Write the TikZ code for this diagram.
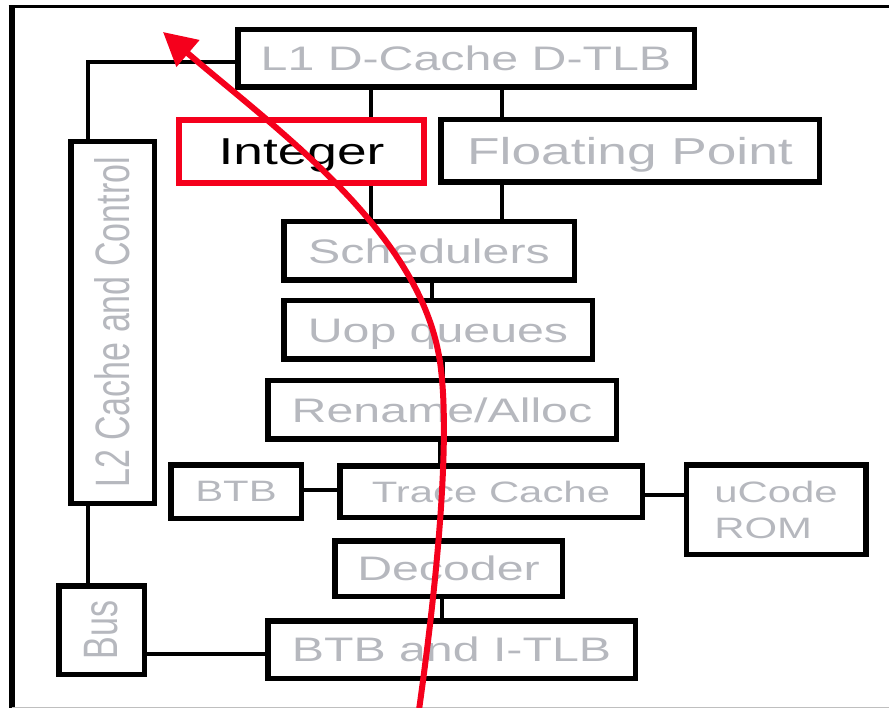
\documentclass[tikz,border=0pt]{standalone}
\usepackage{fontspec}
\setmainfont{Liberation Sans}[FakeStretch=1.42]
\newfontfamily\plainsans{Liberation Sans}
\usepackage{tikz}
\usetikzlibrary{arrows.meta}
\definecolor{unitgray}{RGB}{182,184,190}
\definecolor{flowred}{RGB}{245,0,28}

\begin{document}
\begin{tikzpicture}[x=1pt,y=-1pt,>={Triangle[length=33pt,width=34pt]},
    unit/.style={draw,line width=5.5pt,text=unitgray,inner sep=0pt},
    big/.style={font=\fontsize{37.5}{45}\selectfont,text height=26.9pt,text depth=0pt},
    mid/.style={font=\fontsize{34}{41}\selectfont,text height=24.3pt,text depth=0pt},
    small/.style={font=\fontsize{29.5}{36}\selectfont},
    side/.style={font=\fontsize{34}{41}\selectfont},
    link/.style={line width=3.2pt},
    flow/.style={draw=flowred,line width=6pt}]
  \useasboundingbox (0,0) rectangle (889,708);
  % frame
  \draw [line width=6pt] (11.5,708) -- (11.5,5);
  \draw [line width=3pt] (8.5,6.5) -- (889,6.5);
  \draw [gray!50,line width=1.2pt] (11.5,707.3) -- (889,707.3);

  % units
  \node [unit,mid,minimum width=456.5pt,minimum height=57.5pt] (l1) at (466,58.5) {L1 D-Cache D-TLB};
  \node [unit,big,draw=flowred,line width=6pt,text=black,minimum width=245pt,minimum height=63pt] (int) at (301.5,151.5) {Integer};
  \node [unit,big,minimum width=378.5pt,minimum height=62.5pt] (fp) at (630,151) {Floating Point};
  \node [unit,mid,minimum width=290.5pt,minimum height=58.5pt] (sched) at (429,251) {Schedulers};
  \node [unit,mid,minimum width=308.5pt,minimum height=58.5pt] (uop) at (438,330) {Uop queues};
  \node [unit,mid,minimum width=348.5pt,minimum height=58.5pt] (ren) at (442,410) {Rename/Alloc};
  \node [unit,small,minimum width=130.5pt,minimum height=53.5pt] (btb) at (236,491.5) {BTB};
  \node [unit,small,minimum width=302.5pt,minimum height=51.5pt] (trace) at (491,491.5) {Trace Cache};
  \node [unit,small,align=left,minimum width=179.5pt,minimum height=89.5pt] (ucode) at (776,509.5) {uCode\\ROM};
  \node [unit,mid,minimum width=227.5pt,minimum height=55.5pt] (dec) at (448.5,568.5) {Decoder};
  \node [unit,mid,minimum width=367.5pt,minimum height=57.5pt] (btbi) at (451.5,649.5) {BTB and I-TLB};
  \node [unit,side,minimum width=83.5pt,minimum height=361.5pt] (l2) at (112.5,322.5)
    {\rotatebox{90}{\scalebox{1}[1.42]{\plainsans L2 Cache and Control}}};
  \node [unit,side,minimum width=85.5pt,minimum height=88.5pt] (bus) at (101.5,630)
    {\rotatebox{90}{\scalebox{1}[1.42]{\plainsans Bus}}};

  % links
  \coordinate (sx1) at (371,0);
  \coordinate (sx2) at (502,0);
  \coordinate (sx3) at (432,0);
  \coordinate (sx4) at (443,0);
  \coordinate (sx5) at (440,0);
  \coordinate (sx6) at (442,0);
  \coordinate (sx7) at (88,0);
  \coordinate (sy1) at (0,62);
  \coordinate (sy2) at (0,490);
  \coordinate (sy3) at (0,495);
  \coordinate (sy4) at (0,654);
  \draw [link] (l1.south -| sx1) -- (int.north -| sx1);
  \draw [link] (int.south -| sx1) -- (sched.north -| sx1);
  \draw [link] (l1.south -| sx2) -- (fp.north -| sx2);
  \draw [link] (fp.south -| sx2) -- (sched.north -| sx2);
  \draw [link] (sched.south -| sx3) -- (uop.north -| sx3);
  \draw [link] (uop.south -| sx4) -- (ren.north -| sx4);
  \draw [link] (ren.south -| sx5) -- (trace.north -| sx5);
  \draw [link] (dec.south -| sx6) -- (btbi.north -| sx6);
  \draw [link] (btb.east |- sy2) -- (trace.west |- sy2);
  \draw [link] (trace.east |- sy3) -- (ucode.west |- sy3);
  \draw [link] (bus.east |- sy4) -- (btbi.west |- sy4);
  \draw [link] (l2.south -| sx7) -- (bus.north -| sx7);
  \draw [link] (l2.north -| sx7) |- (l1.west |- sy1);

  % path of an instruction
  \coordinate (fin) at (419,710);
  \coordinate (fout) at (163,32);
  \draw [flow,->] (fin) .. controls (440,560) and (450,430) .. (440,362)
                        .. controls (421,232) and (277,130) .. (fout);
\end{tikzpicture}
\end{document}
